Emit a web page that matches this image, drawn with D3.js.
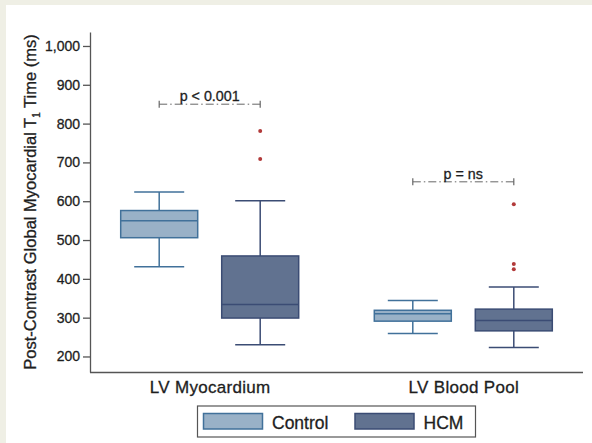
<!doctype html>
<html>
  <head>
    <meta charset='UTF-8'>
    <title>Post-contrast T1 time</title>
    <script src="https://cdn.jsdelivr.net/npm/d3@7"></script>
    <style>
      body { margin: 0; background: #fff; }
      text { font-family: "Liberation Sans", Arial, sans-serif; fill: #1e1e1e; stroke: #1e1e1e; stroke-width: 0.3px; }
    </style>
  </head>
  <body>
    <svg id='chart'></svg>
    <script>
      const categories = ["LV Myocardium", "LV Blood Pool"];
      const groups = ["Control", "HCM"];
      // low whisker, q1, median, q3, high whisker (ms)
      const controlBoxes = [[431, 506, 550, 576, 624], [259, 291, 310, 319, 344]];
      const hcmBoxes = [[230, 299, 334, 459, 601], [223, 266, 293, 322, 379]];
      const controlOutliers = [[], []];
      const hcmOutliers = [[709, 781], [425, 438, 592]];
      const pLabels = ["p < 0.001", "p = ns"];
      const pBracketY = [850, 650];
      const yTicks = [200, 300, 400, 500, 600, 700, 800, 900, 1000];

      const W = 592, H = 443;
      const fills = {Control: "#99b1c7", HCM: "#617290"};
      const strokes = {Control: "#41719a", HCM: "#3b4c74"};
      const font = "'Liberation Sans', Arial, sans-serif";

      const svg = d3.select("#chart").attr("width", W).attr("height", H);
      svg.append("rect").attr("width", W).attr("height", H).attr("fill", "#efefe5");
      svg.append("rect").attr("x", 6).attr("y", 5).attr("width", W - 6).attr("height", H - 5).attr("fill", "#fff");

      const plotL = 90, plotR = 583, plotT = 32, plotB = 372;
      const y = d3.scaleLinear().domain([160, 1036]).range([plotB, plotT]);
      const x = d3.scalePoint().domain(categories).range([plotL, plotR]).padding(0.472);
      const sub = d3.scaleBand().domain(groups).range([-101, 101]);
      const boxW = 77, capW = 50;

      // axes
      const yAxis = svg.append("g").attr("transform", `translate(${plotL},0)`)
	    .call(d3.axisLeft(y).tickValues(yTicks).tickFormat(d3.format(",")).tickSize(7).tickPadding(3).tickSizeOuter(0));
      yAxis.selectAll("path, line").attr("stroke", "#555").attr("stroke-width", 1.3);
      yAxis.selectAll("text").attr("font-size", 14).attr("fill", "#1e1e1e").style("font-family", font);

      const xAxis = svg.append("g").attr("transform", `translate(0,${plotB})`)
	    .call(d3.axisBottom(x).tickSize(0).tickPadding(8.5).tickSizeOuter(0));
      xAxis.select(".domain").attr("stroke", "#555").attr("stroke-width", 1.3)
	  .attr("d", `M${plotL},0.5H${plotR}`);
      xAxis.selectAll("text").attr("font-size", 17).attr("fill", "#1e1e1e")
	  .attr("letter-spacing", 0.3).style("font-family", font);

      // y title with subscript
      const title = svg.append("text")
	    .attr("transform", "translate(36,202) rotate(-90)")
	    .attr("text-anchor", "middle").attr("font-size", 16.5);
      title.append("tspan").text("Post-Contrast Global Myocardial T");
      title.append("tspan").attr("dy", 4).attr("font-size", 10).text("1");
      title.append("tspan").attr("dy", -4).text(" Time (ms)");

      // boxes
      const rows = [];
      categories.forEach((c, i) => {
	  rows.push({cat: c, grp: "Control", s: controlBoxes[i], out: controlOutliers[i]});
	  rows.push({cat: c, grp: "HCM", s: hcmBoxes[i], out: hcmOutliers[i]});
      });
      const bx = svg.selectAll("g.box").data(rows).enter().append("g")
	    .attr("class", "box")
	    .attr("transform", d => `translate(${x(d.cat) + sub(d.grp) + sub.bandwidth() / 2},0)`);
      bx.append("line").attr("y1", d => y(d.s[0])).attr("y2", d => y(d.s[4]))
	  .attr("stroke", d => strokes[d.grp]).attr("stroke-width", 1.5);
      bx.selectAll("line.cap").data(d => [d, d]).enter().append("line")
	  .attr("x1", -capW / 2).attr("x2", capW / 2)
	  .attr("y1", (d, i) => y(d.s[i * 4])).attr("y2", (d, i) => y(d.s[i * 4]))
	  .attr("stroke", d => strokes[d.grp]).attr("stroke-width", 1.5);
      bx.append("rect").attr("x", -boxW / 2).attr("width", boxW)
	  .attr("y", d => y(d.s[3])).attr("height", d => y(d.s[1]) - y(d.s[3]))
	  .attr("fill", d => fills[d.grp]).attr("stroke", d => strokes[d.grp]).attr("stroke-width", 1.5);
      bx.append("line").attr("x1", -boxW / 2).attr("x2", boxW / 2)
	  .attr("y1", d => y(d.s[2])).attr("y2", d => y(d.s[2]))
	  .attr("stroke", d => strokes[d.grp]).attr("stroke-width", 1.5);
      bx.selectAll("circle").data(d => d.out).enter().append("circle")
	  .attr("cy", d => y(d)).attr("r", 2).attr("fill", "#b23a3a");

      // p value brackets
      const br = svg.selectAll("g.bracket").data(categories).enter().append("g").attr("class", "bracket");
      const bx0 = c => x(c) + sub("Control") + sub.bandwidth() / 2;
      const bx1 = c => x(c) + sub("HCM") + sub.bandwidth() / 2;
      br.append("line").attr("x1", bx0).attr("x2", bx1)
	  .attr("y1", (c, i) => y(pBracketY[i])).attr("y2", (c, i) => y(pBracketY[i]))
	  .attr("stroke", "#666").attr("stroke-width", 1).attr("stroke-dasharray", "8,3,1.5,3");
      br.selectAll("line.end").data((c, i) => [[bx0(c), pBracketY[i]], [bx1(c), pBracketY[i]]]).enter().append("line")
	  .attr("x1", d => d[0]).attr("x2", d => d[0])
	  .attr("y1", d => y(d[1]) - 3.5).attr("y2", d => y(d[1]) + 3.5)
	  .attr("stroke", "#666").attr("stroke-width", 1.2);
      br.append("text").attr("x", c => x(c)).attr("y", (c, i) => y(pBracketY[i]) - 3)
	  .attr("text-anchor", "middle").attr("font-size", 14.3).text((c, i) => pLabels[i]);

      // legend
      const lg = svg.append("g");
      lg.append("rect").attr("x", 197.5).attr("y", 406).attr("width", 278).attr("height", 31)
	  .attr("fill", "#fff").attr("stroke", "#555").attr("stroke-width", 1.2);
      const lx = [203.5, 355];
      lg.selectAll("rect.sw").data(groups).enter().append("rect")
	  .attr("x", (g, i) => lx[i]).attr("y", 413.5).attr("width", 59).attr("height", 15.5)
	  .attr("fill", g => fills[g]).attr("stroke", g => strokes[g]).attr("stroke-width", 1.5);
      lg.selectAll("text").data(groups).enter().append("text")
	  .attr("x", (g, i) => lx[i] + 68.5).attr("y", 428.5).attr("font-size", 17.5).text(g => g);
    </script>
  </body>
</html>
